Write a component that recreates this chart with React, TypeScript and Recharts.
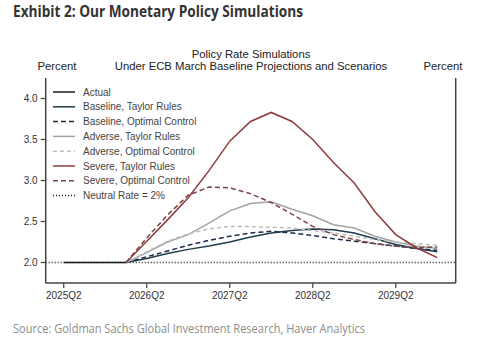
import { LineChart, Line, XAxis, YAxis, ReferenceLine } from "recharts";

const QUARTERS = [
  "2025Q2", "2025Q3", "2025Q4", "2026Q1", "2026Q2", "2026Q3", "2026Q4", "2027Q1", "2027Q2", "2027Q3",
  "2027Q4", "2028Q1", "2028Q2", "2028Q3", "2028Q4", "2029Q1", "2029Q2", "2029Q3", "2029Q4",
];
const X_TICKS = [0, 4, 8, 12, 16];
const Y_TICKS = [2.0, 2.5, 3.0, 3.5, 4.0];
const NEUTRAL_RATE = 2.0;

const ACTUAL = [2.0, 2.0, 2.0, 2.0];
const BASELINE_TAYLOR = [null, null, null, 2.0, 2.05, 2.11, 2.16, 2.2, 2.25, 2.31, 2.36, 2.39, 2.41, 2.4, 2.36, 2.29, 2.22, 2.17, 2.13];
const BASELINE_OPTIMAL = [null, null, null, 2.0, 2.07, 2.14, 2.21, 2.27, 2.32, 2.36, 2.38, 2.36, 2.33, 2.29, 2.26, 2.23, 2.2, 2.17, 2.15];
const ADVERSE_TAYLOR = [null, null, null, 2.0, 2.12, 2.25, 2.34, 2.48, 2.63, 2.72, 2.74, 2.65, 2.57, 2.46, 2.42, 2.32, 2.25, 2.2, 2.17];
const ADVERSE_OPTIMAL = [null, null, null, 2.0, 2.13, 2.26, 2.35, 2.41, 2.44, 2.44, 2.43, 2.42, 2.39, 2.36, 2.32, 2.28, 2.25, 2.23, 2.21];
const SEVERE_TAYLOR = [null, null, null, 2.0, 2.26, 2.52, 2.79, 3.12, 3.48, 3.72, 3.83, 3.72, 3.5, 3.22, 2.97, 2.62, 2.34, 2.18, 2.06];
const SEVERE_OPTIMAL = [null, null, null, 2.0, 2.3, 2.58, 2.82, 2.92, 2.91, 2.84, 2.73, 2.59, 2.44, 2.34, 2.28, 2.23, 2.2, 2.18, 2.19];

const SERIES = [
  { key: "actual", name: "Actual", color: "#1a1a1a", dash: undefined },
  { key: "baseTaylor", name: "Baseline, Taylor Rules", color: "#1e3d4f", dash: undefined },
  { key: "baseOptimal", name: "Baseline, Optimal Control", color: "#1f2f46", dash: "5 3" },
  { key: "advTaylor", name: "Adverse, Taylor Rules", color: "#a3a3a3", dash: undefined },
  { key: "advOptimal", name: "Adverse, Optimal Control", color: "#bdbdbd", dash: "4 3" },
  { key: "sevTaylor", name: "Severe, Taylor Rules", color: "#8e3b3b", dash: undefined },
  { key: "sevOptimal", name: "Severe, Optimal Control", color: "#7d4444", dash: "5 3" },
];

const data = QUARTERS.map((q, i) => ({
  i,
  actual: ACTUAL[i] ?? null,
  baseTaylor: BASELINE_TAYLOR[i],
  baseOptimal: BASELINE_OPTIMAL[i],
  advTaylor: ADVERSE_TAYLOR[i],
  advOptimal: ADVERSE_OPTIMAL[i],
  sevTaylor: SEVERE_TAYLOR[i],
  sevOptimal: SEVERE_OPTIMAL[i],
}));

const FONT = "'Liberation Sans', Arial, sans-serif";
const AXIS = "#444";

function LegendBox() {
  const rows = [...SERIES, { key: "neutral", name: "Neutral Rate = 2%", color: "#222", dash: "1 2" }];
  return (
    <g transform="translate(50, 84)">
      {rows.map((s, k) => (
        <g key={s.key} transform={`translate(0, ${8 + k * 14.8})`}>
          <line x1={3} x2={25} y1={0} y2={0} stroke={s.color} strokeWidth={1.5} strokeDasharray={s.dash} />
          <text x={33} y={3.5} fontSize={10} fontFamily={FONT} fill="#444">{s.name}</text>
        </g>
      ))}
    </g>
  );
}

export default function App() {
  const tick = { fontSize: 10, fontFamily: FONT, fill: "#333" };
  return (
    <div style={{ position: "absolute", left: 0, top: 0, width: 500, height: 353, background: "#fff" }}>
      <LineChart width={500} height={353} data={data} margin={{ top: 78, right: 0, left: 0, bottom: 40 }}>
        <XAxis
          dataKey="i"
          type="number"
          domain={[-0.87, 18.89]}
          allowDataOverflow
          ticks={X_TICKS}
          tickFormatter={(v) => QUARTERS[v]}
          tick={tick}
          tickSize={5}
          tickMargin={4}
          height={30}
          axisLine={{ stroke: AXIS, strokeWidth: 1.5 }}
          tickLine={{ stroke: AXIS, strokeWidth: 1.2 }}
        />
        <YAxis
          yAxisId="left"
          domain={[1.75, 4.25]}
          ticks={Y_TICKS}
          tickFormatter={(v) => v.toFixed(1)}
          tick={tick}
          width={45.7}
          tickSize={5}
          tickMargin={3}
          axisLine={{ stroke: AXIS, strokeWidth: 1.5 }}
          tickLine={{ stroke: AXIS, strokeWidth: 1.2 }}
        />
        <YAxis
          yAxisId="right"
          orientation="right"
          domain={[1.75, 4.25]}
          ticks={Y_TICKS}
          tickFormatter={(v) => v.toFixed(1)}
          tick={tick}
          width={44.3}
          tickSize={5}
          tickMargin={3}
          axisLine={{ stroke: AXIS, strokeWidth: 1.5 }}
          tickLine={{ stroke: AXIS, strokeWidth: 1.2 }}
        />
        <ReferenceLine yAxisId="left" y={NEUTRAL_RATE} stroke="#222" strokeWidth={1.5} strokeDasharray="1 2" />
        {SERIES.map((s) => (
          <Line
            key={s.key}
            yAxisId="left"
            dataKey={s.key}
            name={s.name}
            type="linear"
            stroke={s.color}
            strokeWidth={1.5}
            strokeDasharray={s.dash}
            dot={false}
            isAnimationActive={false}
          />
        ))}
      </LineChart>
      <svg width={500} height={353} style={{ position: "absolute", left: 0, top: 0, pointerEvents: "none" }}>
        <LegendBox />
        <text x={13} y={17} fontSize={16} fontWeight={700} fill="#333" fontFamily="'Open Sans', sans-serif" textLength={290} lengthAdjust="spacingAndGlyphs">
          Exhibit 2: Our Monetary Policy Simulations
        </text>
        <text x={251} y={57.5} fontSize={11.3} fill="#222" fontFamily={FONT} textAnchor="middle">Policy Rate Simulations</text>
        <text x={251} y={70} fontSize={11.3} fill="#222" fontFamily={FONT} textAnchor="middle">Under ECB March Baseline Projections and Scenarios</text>
        <text x={57} y={70} fontSize={11.3} fill="#222" fontFamily={FONT} textAnchor="middle">Percent</text>
        <text x={443} y={70} fontSize={11.3} fill="#222" fontFamily={FONT} textAnchor="middle">Percent</text>
        <text x={13} y={333} fontSize={13.5} fill="#8c8c8c" fontFamily="'Open Sans', sans-serif" textLength={352} lengthAdjust="spacingAndGlyphs">
          Source: Goldman Sachs Global Investment Research, Haver Analytics
        </text>
      </svg>
    </div>
  );
}
